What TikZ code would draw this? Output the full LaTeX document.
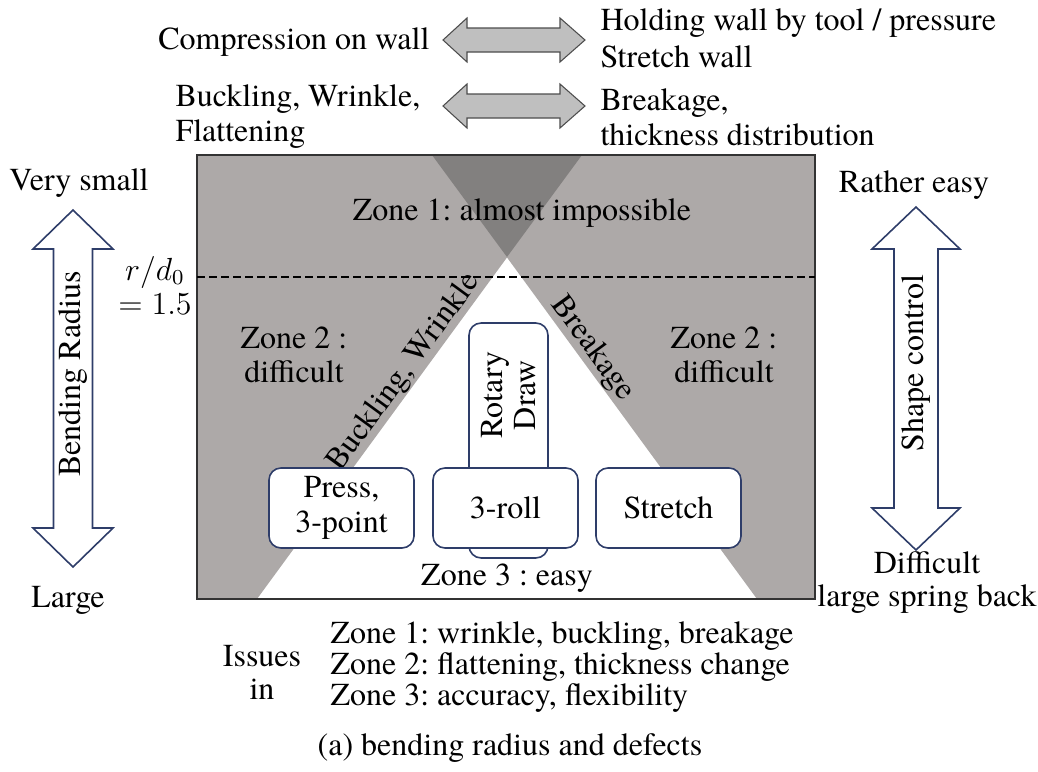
\documentclass[tikz,border=0pt]{standalone}
\usepackage{fontspec}
\setmainfont{texgyretermes}[Extension=.otf,UprightFont=*-regular,BoldFont=*-bold,ItalicFont=*-italic,BoldItalicFont=*-bolditalic]
\usepackage{xcolor}
\usepackage{tikz}
\definecolor{zonegray}{HTML}{ADA9A8}
\definecolor{zonedark}{HTML}{82807F}
\definecolor{boxblue}{HTML}{2E3D69}
\definecolor{arrowfill}{HTML}{BFBFBF}
\definecolor{arrowedge}{HTML}{4D4D4D}
\frenchspacing

\begin{document}
\begin{tikzpicture}[x=0.375pt,y=-0.375pt,
  txt/.style={inner sep=0pt,align=center,font=\rmfamily\fontsize{12}{13}\selectfont},
  procbox/.style={draw=boxblue,line width=0.6pt,fill=white,rounded corners=4.5pt,inner sep=0pt,align=center,font=\rmfamily\fontsize{12}{13.1}\selectfont},
  bigarrow/.style={draw=boxblue,line width=0.6pt,fill=white},
  flatarrow/.style={draw=arrowedge,line width=0.4pt,fill=arrowfill}]
\useasboundingbox (0,0) rectangle (1038,772);

% zones
\coordinate (l1top) at (432,155);
\coordinate (l1bot) at (757,599);
\coordinate (l2top) at (582,155);
\coordinate (l2bot) at (257,599);
\fill[zonegray] (197,155) -- (l2top) -- (l2bot) -- (197,599) -- cycle;
\fill[zonegray] (l1top) -- (815,155) -- (815,599) -- (l1bot) -- cycle;
\fill[zonedark] (l1top) -- (l2top) -- (507,257) -- cycle;
\draw[black!80,line width=0.6pt] (197,155) rectangle (815,599);
\draw[black,line width=0.6pt,dash pattern=on 3pt off 1.5pt] (197,277) -- (815,277);

\node[txt] (zone1) at (522,213) {Zone 1: almost impossible};
\node[txt,font=\rmfamily\fontsize{12}{12.75}\selectfont] (zone2l) at (294,355) {Zone 2 :\\difficult};
\node[txt,font=\rmfamily\fontsize{12}{12.75}\selectfont] (zone2r) at (724,355) {Zone 2 :\\difficult};
\node[txt] (zone3) at (507,578) {Zone 3 : easy};
\path (l2bot) -- (l2top) node[txt,pos=0.49,sloped,anchor=south] (buckle) {Buckling, Wrinkle};
\path (l1top) -- (l1bot) node[txt,pos=0.456,sloped,anchor=south] (breaks) {Breakage};

% processes
\node[procbox,minimum width=29.6pt,minimum height=88.1pt] (rotary) at (508.5,440.5) {};
\node[txt,rotate=90,font=\rmfamily\fontsize{12}{12.4}\selectfont] (rotarytxt) at (509,395) {Rotary\\Draw};
\node[procbox,minimum width=54.4pt,minimum height=30pt] (press) at (341.5,508) {Press,\\3-point};
\node[procbox,minimum width=54.4pt,minimum height=30pt] (roll) at (505.5,508) {3-roll};
\node[procbox,minimum width=54.4pt,minimum height=30pt] (stretch) at (668.5,508) {Stretch};

% bending radius
\draw[bigarrow] (73,210) -- (113,249) -- (92.5,249) -- (92.5,528) -- (113,528) -- (73,567) -- (33,528) -- (53.5,528) -- (53.5,249) -- (33,249) -- cycle;
\node[txt,rotate=90] (bendr) at (73,374) {Bending Radius};
\node[txt] (vsmall) at (79,183) {Very small};
\node[txt] (large) at (68,600) {Large};
\node[txt,font=\rmfamily\fontsize{12}{12.75}\selectfont] (ratio) at (155,285) {$r/d_0$\\$=1.5$};

% shape control
\draw[bigarrow] (916,207) -- (960,249) -- (938,249) -- (938,508) -- (960,508) -- (916,550) -- (872,508) -- (894,508) -- (894,249) -- (872,249) -- cycle;
\node[txt,rotate=90] (shapec) at (916,363) {Shape control};
\node[txt] (reasy) at (914,185) {Rather easy};
\node[txt,font=\rmfamily\fontsize{12}{12.4}\selectfont] (diff) at (927,583) {Difficult\\large spring back};

% wall loading
\foreach \yc in {40,106}
  \draw[flatarrow] (443,\yc) -- (467,\yc-22) -- (467,\yc-12) -- (560,\yc-12) -- (560,\yc-22) -- (585,\yc) -- (560,\yc+22) -- (560,\yc+12) -- (467,\yc+12) -- (467,\yc+22) -- cycle;
\node[txt,anchor=east] (compr) at (430,42) {Compression on wall};
\node[txt,anchor=west,align=left,font=\rmfamily\fontsize{12}{13.9}\selectfont] (holding) at (600,38) {Holding wall by tool / pressure\\Stretch wall};
\node[txt,anchor=west,align=left,font=\rmfamily\fontsize{12}{13.1}\selectfont] (bucklist) at (175,117) {Buckling, Wrinkle,\\Flattening};
\node[txt,anchor=west,align=left,font=\rmfamily\fontsize{12}{13.1}\selectfont] (breaklist) at (600,117) {Breakage,\\thickness distribution};

% issues
\node[txt,font=\rmfamily\fontsize{12}{12.4}\selectfont] (issues) at (262,672) {Issues\\in};
\node[txt,anchor=west,align=left,font=\rmfamily\fontsize{12}{11.6}\selectfont] (zonelist) at (330,667) {Zone 1: wrinkle, buckling, breakage\\Zone 2: flattening, thickness change\\Zone 3: accuracy, flexibility};
\node[txt] (caption) at (510,748) {(a) bending radius and defects};
\end{tikzpicture}
\end{document}
